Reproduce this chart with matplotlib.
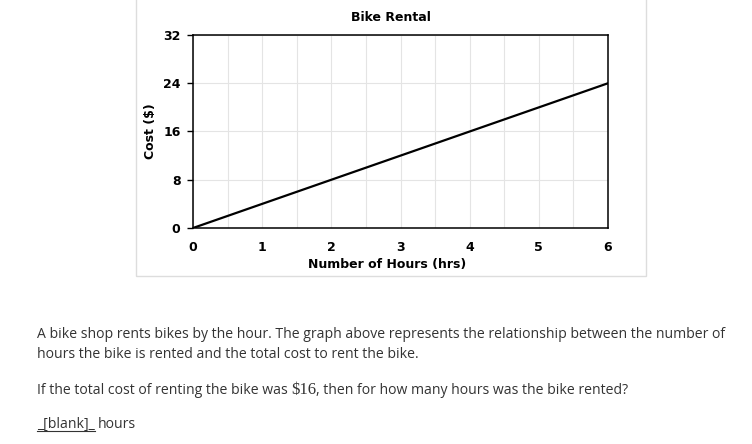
import matplotlib
matplotlib.use("Agg")
import matplotlib.pyplot as plt
from matplotlib.patches import Rectangle
from matplotlib.lines import Line2D

hours = [0, 6]
cost = [0, 24]
x_ticks = [0, 1, 2, 3, 4, 5, 6]
y_ticks = [0, 8, 16, 24, 32]
title = "Bike Rental"
xlabel = "Number of Hours (hrs)"
ylabel = "Cost ($)"

W, H = 752, 444
fig = plt.figure(figsize=(W / 100, H / 100), dpi=100)
fig.patch.set_facecolor("white")

# outer chart frame
fig.patches.append(Rectangle((136 / W, 1 - 276 / H), (646 - 136) / W, 276 / H + 0.01,
                             transform=fig.transFigure, fill=False,
                             edgecolor="#dddddd", linewidth=1.0))

ax = fig.add_axes([193 / W, 1 - 228 / H, (608 - 193) / W, (228 - 35) / H])
ax.plot(hours, cost, color="black", linewidth=1.6, solid_capstyle="round")
ax.set_xlim(0, 6)
ax.set_ylim(0, 32)
ax.set_xticks(x_ticks)
ax.set_yticks(y_ticks)
ax.set_xticks([i + 0.5 for i in range(6)], minor=True)
ax.grid(True, which="both", axis="x", color="#e4e4e4", linewidth=0.8)
ax.grid(True, which="major", axis="y", color="#e4e4e4", linewidth=0.8)
ax.set_axisbelow(True)
for s in ax.spines.values():
    s.set_color("black")
    s.set_linewidth(1.1)
ax.tick_params(axis="x", which="both", length=0, pad=9)
ax.tick_params(axis="y", length=4, width=1.0, pad=5, direction="out")
for lab in ax.get_xticklabels() + ax.get_yticklabels():
    lab.set_fontweight("bold")
    lab.set_fontsize(9)
    lab.set_family("DejaVu Sans")
ax.set_title(title, fontsize=9, fontweight="bold", pad=10, x=0.476)
ax.set_xlabel(xlabel, fontsize=9, fontweight="bold", labelpad=3, x=0.468)
ax.set_ylabel(ylabel, fontsize=9, fontweight="bold", labelpad=4)

# question text
tfont = dict(family="Open Sans", fontsize=10.1, color="#333333", va="baseline")
fig.text(37 / W, 1 - 338 / H,
         "A bike shop rents bikes by the hour. The graph above represents the relationship between the number of",
         **tfont)
fig.text(37 / W, 1 - 358 / H,
         "hours the bike is rented and the total cost to rent the bike.", **tfont)

fig.canvas.draw()
r = fig.canvas.get_renderer()
t1 = fig.text(37 / W, 1 - 394 / H, "If the total cost of renting the bike was ", **tfont)
e1 = t1.get_window_extent(r)
t2 = fig.text(e1.x1 / W, 1 - 394 / H, r"\$16", family="Liberation Serif", fontsize=12,
              color="#333333", va="baseline")
e2 = t2.get_window_extent(r)
fig.text(e2.x1 / W, 1 - 394 / H, ", then for how many hours was the bike rented?", **tfont)

t4 = fig.text(37 / W, 1 - 428 / H, "_[blank]_", **tfont)
e4 = t4.get_window_extent(r)
fig.lines.append(Line2D([e4.x0 / W, e4.x1 / W], [1 - 431 / H, 1 - 431 / H],
                        transform=fig.transFigure, color="#333333", linewidth=0.8))
fig.text(e4.x1 / W + 3 / W, 1 - 428 / H, "hours", **tfont)

fig.savefig("out.png", dpi=100, facecolor="white")
